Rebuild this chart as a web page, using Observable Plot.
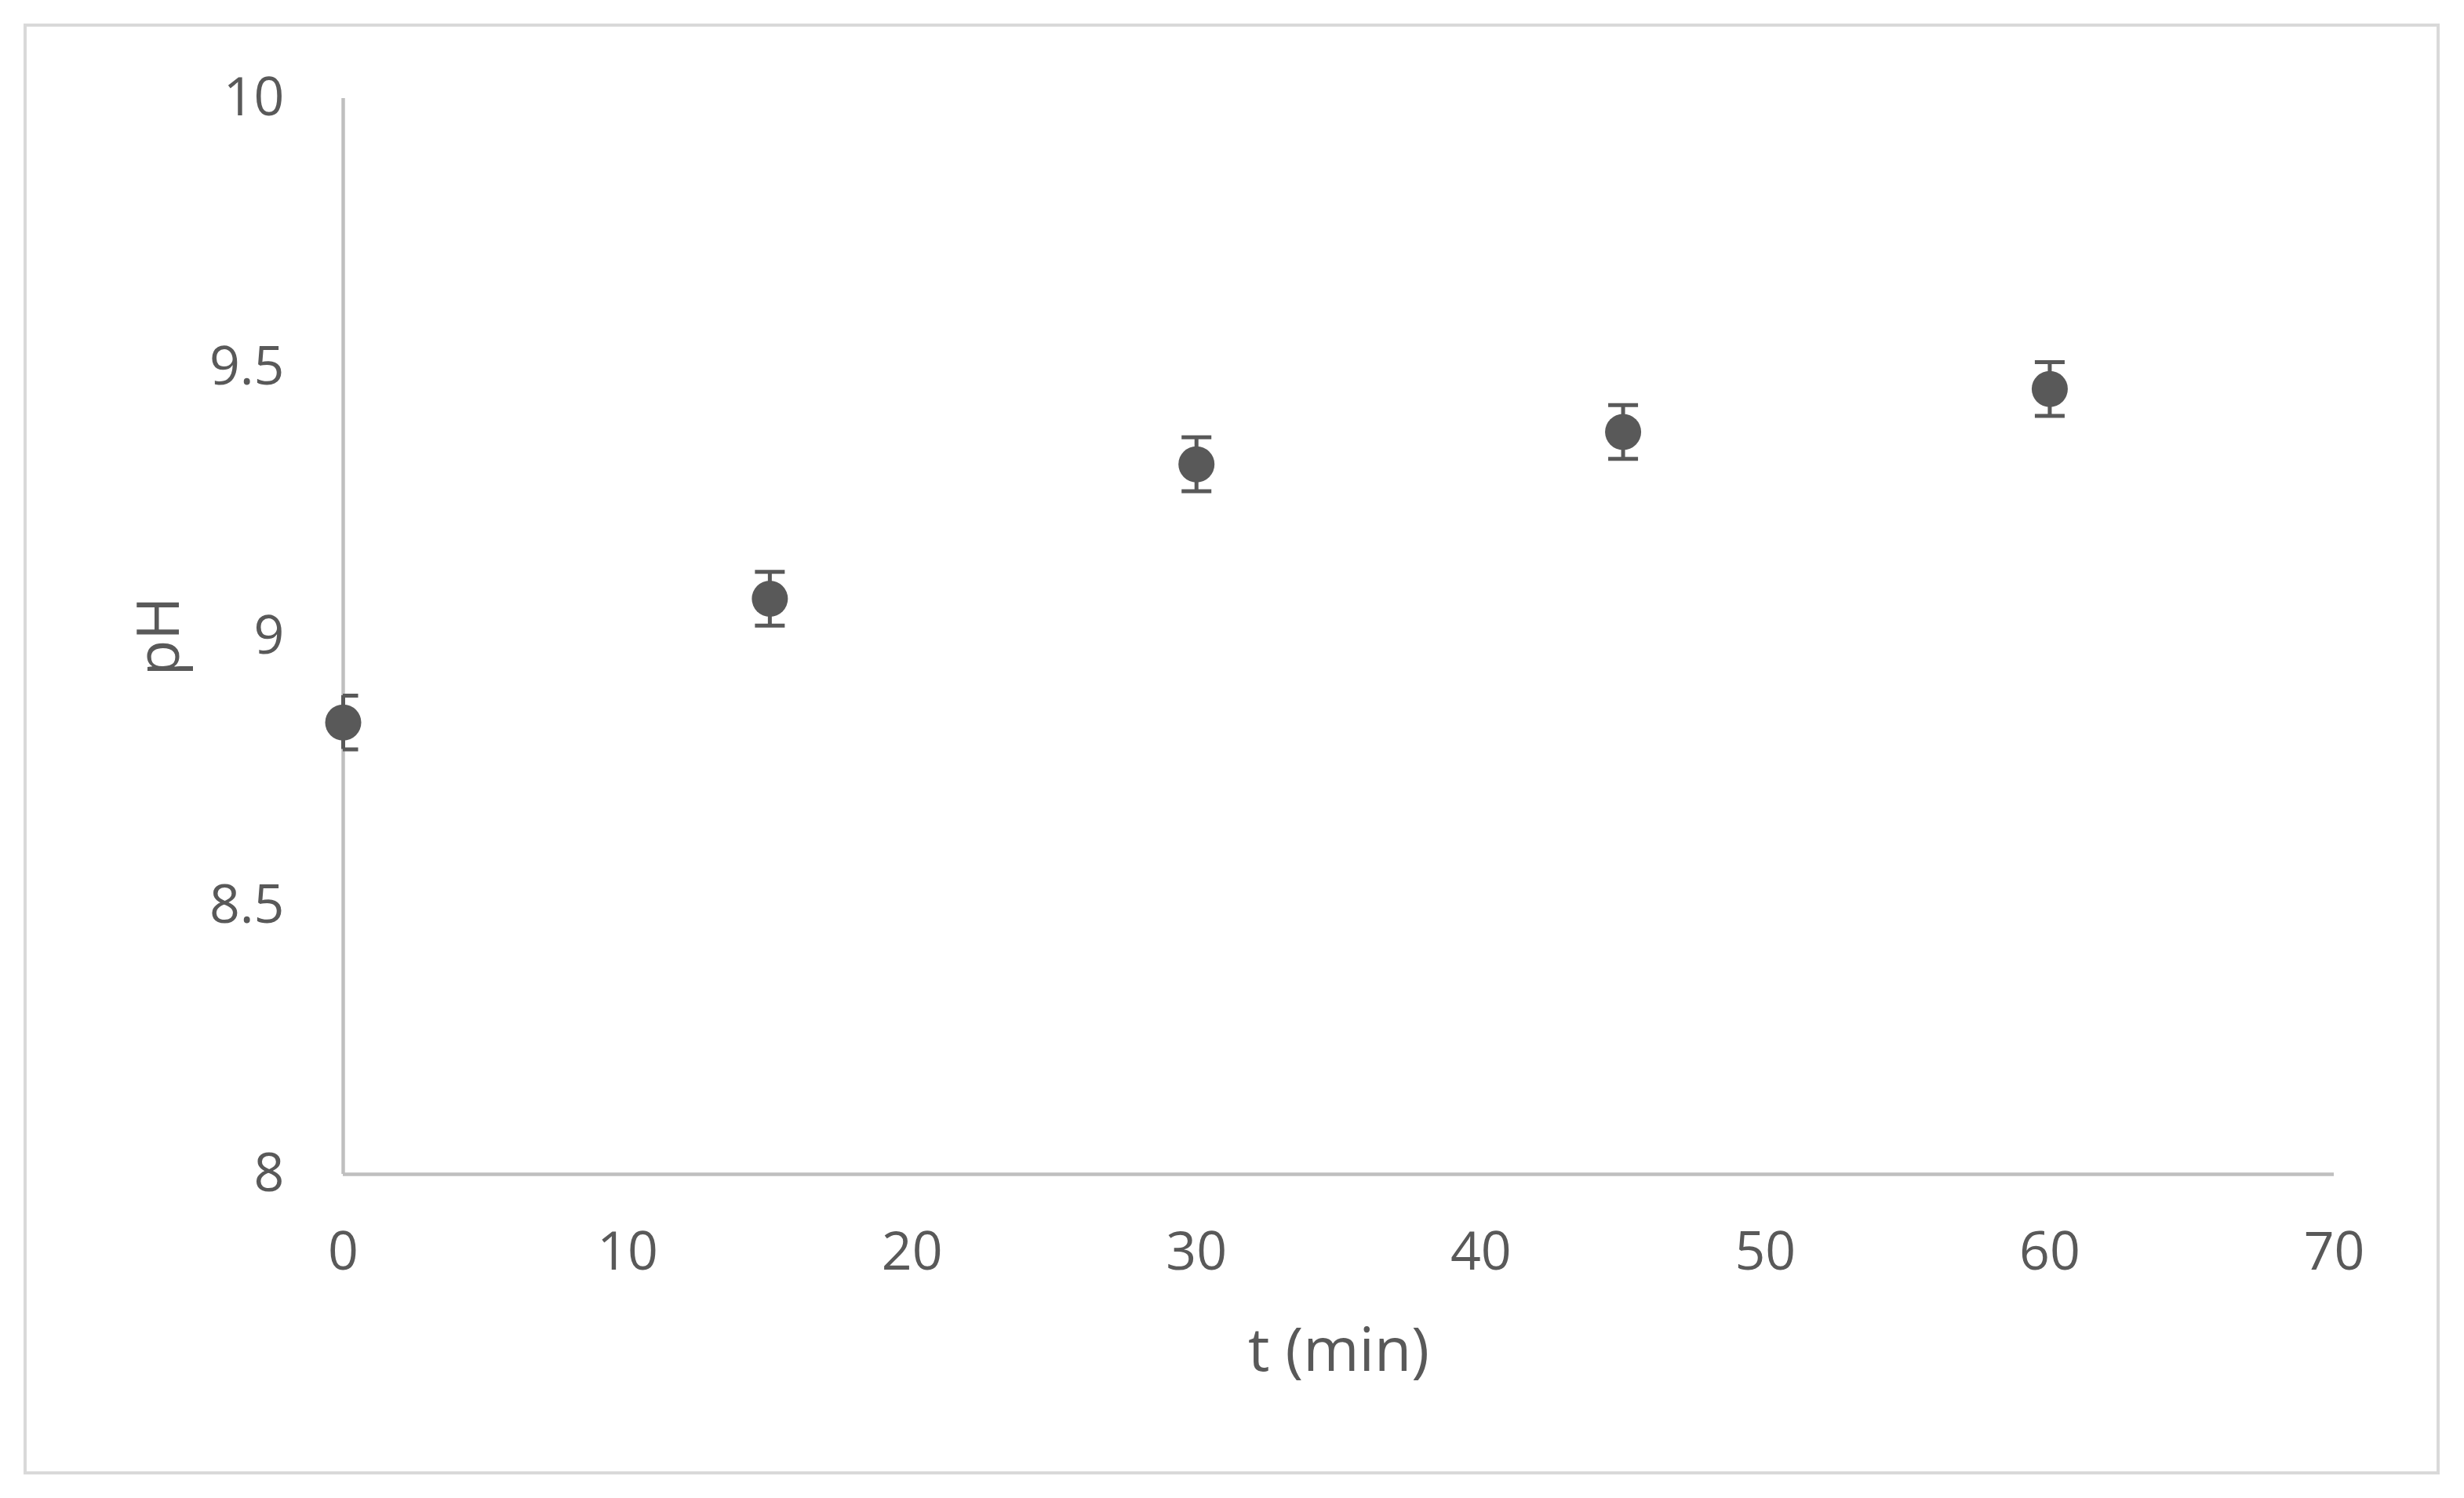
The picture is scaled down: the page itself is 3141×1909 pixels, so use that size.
<!DOCTYPE html>
<html>
<head>
<meta charset="utf-8">
<script src="https://cdn.jsdelivr.net/npm/d3@7"></script>
<script src="https://cdn.jsdelivr.net/npm/@observablehq/plot@0.6"></script>
<style>
  html, body { margin: 0; padding: 0; background: #ffffff; }
  #wrap { position: relative; width: 3141px; height: 1909px; background: #ffffff; }
  #frame { position: absolute; left: 30px; top: 30px; width: 3080px; height: 1849px; border: 4px solid #d9d9d9; box-sizing: border-box; pointer-events: none; }
  #chart { position: absolute; left: 0; top: 0; }
</style>
</head>
<body>
<div id="wrap"><div id="chart"></div><div id="frame"></div></div>
<script>
// Data
const times = [0, 15, 30, 45, 60];
const phValues = [8.84, 9.07, 9.32, 9.38, 9.46];
const phErrors = [0.05, 0.05, 0.05, 0.05, 0.05];
const xTicks = [0, 10, 20, 30, 40, 50, 60, 70];
const yTicks = [8, 8.5, 9, 9.5, 10];
const xLabel = "t (min)";
const yLabel = "pH";

const data = times.map((t, i) => ({t, pH: phValues[i], err: phErrors[i]}));
const caps = data.flatMap(d => [{t: d.t, v: d.pH - d.err}, {t: d.t, v: d.pH + d.err}]);

const ink = "#595959";
const capSymbol = {
  draw(context) {
    context.moveTo(-19, 0);
    context.lineTo(19, 0);
  }
};

const chart = Plot.plot({
  width: 3141,
  height: 1909,
  marginLeft: 437,
  marginRight: 166,
  marginTop: 125,
  marginBottom: 413,
  style: {fontFamily: "'Open Sans', sans-serif", fontSize: "68px", color: ink, background: "transparent", overflow: "visible"},
  x: {domain: [0, 70]},
  y: {domain: [8, 10]},
  marks: [
    Plot.ruleX([0], {stroke: "#bfbfbf", strokeWidth: 4.5}),
    Plot.ruleY([8], {stroke: "#bfbfbf", strokeWidth: 4.5}),
    Plot.axisX({ticks: xTicks, tickSize: 0, tickPadding: 73, label: null, fontSize: 68, fill: ink, tickFormat: d => String(d)}),
    Plot.axisY({ticks: yTicks, tickSize: 0, tickPadding: 75, label: null, fontSize: 68, fill: ink, tickFormat: d => String(d)}),
    Plot.ruleX(data, {x: "t", y1: d => d.pH - d.err, y2: d => d.pH + d.err, stroke: ink, strokeWidth: 5}),
    Plot.dot(caps, {x: "t", y: "v", symbol: capSymbol, r: 10, stroke: ink, strokeWidth: 5, fill: "none", clip: "frame"}),
    Plot.dot(data, {x: "t", y: "pH", r: 23, fill: ink, stroke: "none"}),
    Plot.text([xLabel], {frameAnchor: "bottom", textAnchor: "middle", lineAnchor: "middle", dy: 226, fontSize: 77, fill: ink}),
    Plot.text([yLabel], {frameAnchor: "left", textAnchor: "middle", lineAnchor: "middle", dx: -234, rotate: -90, fontSize: 75, fill: ink})
  ]
});
document.getElementById("chart").appendChild(chart);
</script>
</body>
</html>
